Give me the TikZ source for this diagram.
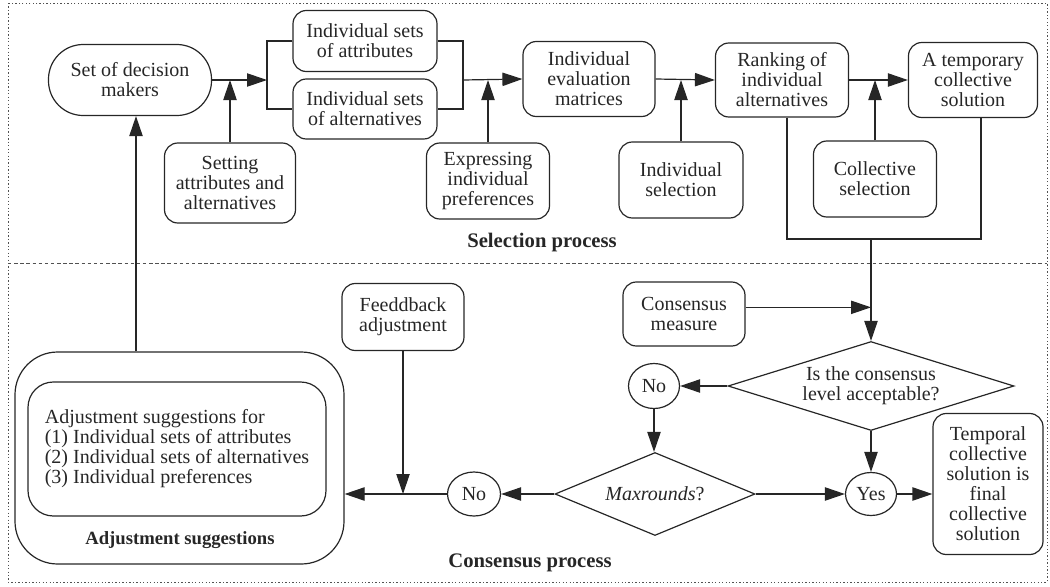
\documentclass[tikz,border=0pt]{standalone}
\usepackage{fontspec}
\setmainfont{Liberation Serif}
\usetikzlibrary{arrows.meta,shapes.geometric}
\definecolor{ink}{HTML}{262626}
\begin{document}
\begin{tikzpicture}[x=0.75pt,y=-0.75pt,
  base/.style={draw=ink, line width=0.9pt, text=ink, align=center, inner sep=1pt,
    font=\fontsize{15}{15}\selectfont},
  rbox/.style={base, rounded corners=10pt},
  wh/.style 2 args={minimum width=#1*0.75pt, minimum height=#2*0.75pt},
  arr/.style={draw=ink, line width=0.9pt, -{Triangle[length=15pt,width=10pt]}},
  wire/.style={draw=ink, line width=0.9pt},
  decision/.style={base, diamond, inner sep=0pt},
  answer/.style={base, ellipse, inner sep=0pt},
  title/.style={text=ink, font=\fontsize{15.5}{15.5}\selectfont\bfseries},
  frame/.style={draw=ink!80, line width=0.7pt, dash pattern=on 1pt off 1.6pt},
  divider/.style={draw=ink!80, line width=0.7pt, dash pattern=on 2.6pt off 2pt}]
\useasboundingbox (0,0) rectangle (1050,586);

% frame of the two processes
\draw[frame] (8,3) rectangle (1047,582);
\draw[divider] (8,263) -- (1047,263);

% ---------- selection process ----------
\node[base, rounded corners=26pt, wh={163}{71}] (dm) at (130,80) {Set of decision\\makers};
\node[rbox, wh={144}{61}] (isa) at (365,41) {Individual sets\\of attributes};
\node[rbox, wh={144}{60}] (isl) at (365,109) {Individual sets\\of alternatives};
\node[rbox, wh={131}{80}] (saa) at (230,183) {Setting\\attributes and\\alternatives};
\node[rbox, wh={123}{76}] (eip) at (488,181) {Expressing\\individual\\preferences};
\node[rbox, wh={132}{75}] (iem) at (589,79) {Individual\\evaluation\\matrices};
\node[rbox, wh={124}{76}] (isel) at (681,180) {Individual\\selection};
\node[rbox, wh={133}{74}] (rank) at (782,80) {Ranking of\\individual\\alternatives};
\node[rbox, wh={129}{75}] (tcs) at (973,80) {A temporary\\collective\\solution};
\node[rbox, wh={123}{76}] (csel) at (875,179) {Collective\\selection};
\node[title] (selt) at (542,243) {Selection process};

\coordinate (jl) at (267,80);
\coordinate (jr) at (463,80);
\draw[arr] (dm.east) -- (jl);
\draw[wire] (isa.west) -| (jl) |- (isl.west);
\draw[arr] (saa.north) -- (saa.north |- jl);
\draw[wire] (isa.east) -| (jr) |- (isl.east);
\draw[arr] (jr) -- (iem.west);
\draw[arr] (eip.north) -- (eip.north |- jr);
\draw[arr] (iem.east) -- (rank.west);
\draw[arr] (isel.north) -- (isel.north |- rank.west);
\draw[arr] (rank.east) -- (tcs.west);
\draw[arr] (csel.north) -- (csel.north |- tcs.west);

% gathering both results for the consensus check
\coordinate (rb) at (787,239);
\coordinate (tb) at (981,239);
\coordinate (jb) at (871,239);
\draw[wire] (rank.south -| rb) -- (rb) -- (tb) -- (tcs.south -| tb);

% ---------- consensus process ----------
\node[rbox, wh={122}{64}] (cm) at (684,314) {Consensus\\measure};
\node[decision, aspect=3.2, wh={286}{89}] (d1) at (871,386) {Is the consensus\\level acceptable?};
\node[answer, wh={51}{45}] (no1) at (654,386) {No};
\node[decision, aspect=2.4, wh={200}{83}] (d2) at (655,494) {\textit{Maxrounds}?};
\node[answer, wh={51}{43}] (yes) at (871,494) {Yes};
\node[rbox, wh={110}{141}] (tmp) at (988,484) {Temporal\\collective\\solution is\\final\\collective\\solution};
\node[rbox, wh={122}{67}] (fb) at (403,317) {Feeddback\\adjustment};
\node[answer, wh={53}{44}] (no2) at (474,494) {No};
\node[base, rounded corners=32pt, wh={329}{212}] (adjo) at (179.5,458) {};
\node[base, rounded corners=19pt, wh={298}{134}, align=left] (adji) at (177,449)
  {Adjustment suggestions for\\(1) Individual sets of attributes\\(2) Individual sets of alternatives\\(3) Individual preferences};
\node[text=ink, font=\fontsize{14}{14}\selectfont\bfseries] (adjt) at (180,540) {Adjustment suggestions};
\node[title] (cont) at (530,563) {Consensus process};

\draw[arr] (jb) -- (d1.north);
\draw[arr] ([yshift=5pt]cm.east) -- ([yshift=5pt]cm.east -| d1.north);
\draw[arr] (d1.west) -- (no1.east);
\draw[arr] (no1.south) -- (no1.south |- d2.north);
\draw[arr] (d1.south) -- (yes.north);
\draw[arr] (d2.east) -- (yes.west);
\draw[arr] (yes.east) -- (yes.east -| tmp.west);
\draw[arr] (d2.west) -- (no2.east);
\draw[arr] (no2.west) -- (no2.west -| adjo.east);
\draw[arr] (fb.south) -- (fb.south |- no2.west);

% feedback to the decision makers
\coordinate (up) at (136,0);
\draw[arr] (adjo.north -| up) -- (dm.south -| up);
\end{tikzpicture}
\end{document}
